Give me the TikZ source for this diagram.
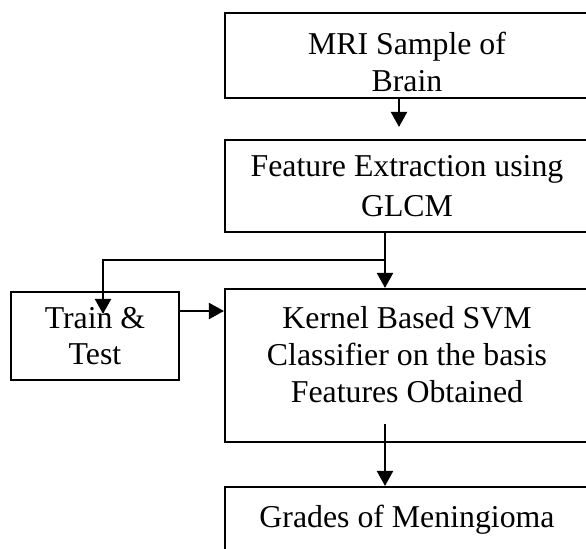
\documentclass[tikz,border=0pt]{standalone}
\usepackage{fontspec}
\setmainfont{Liberation Serif}
\usetikzlibrary{arrows.meta}
\tikzset{
    stage/.style={draw, line width=0.6pt, minimum width=3.64cm, align=center, inner sep=0pt},
    flow/.style={-{Triangle[length=0.15cm,width=0.16cm]}, line width=0.6pt}
}
\begin{document}
\begin{tikzpicture}[font=\fontsize{9.05pt}{10.4pt}\selectfont]
            \useasboundingbox (0, 0) rectangle (5.86, -5.48);
            \clip (0, 0) rectangle (5.86, -5.48);
            \node[stage, minimum height=0.85cm] (mri) at (4.07, -0.555) {\rule{0pt}{10pt}MRI Sample of\\ Brain};
            \node[stage, minimum height=0.92cm] (glcm) at (4.07, -1.86) {Feature Extraction using\\[1pt] GLCM};
            \node[stage, minimum height=1.53cm] (svm) at (4.07, -3.655) {Kernel Based SVM\\ Classifier on the basis\\ Features Obtained\\[-4.1pt]};
            \node[stage, minimum width=1.68cm, minimum height=0.88cm] (train) at (0.95, -3.36) {Train \&\\ Test};
            \node[stage, minimum height=0.66cm] (grades) at (4.07, -5.20) {Grades of Meningioma};
            \coordinate (fork) at ([xshift=-0.22cm, yshift=-0.27cm] glcm.south);

            \draw[flow] ([xshift=-0.08cm] mri.south) -- ([xshift=-0.08cm, yshift=0.12cm] glcm.north);
            \draw[flow] ([xshift=-0.22cm] glcm.south) -- ([xshift=-0.22cm] svm.north);
            \draw[flow] (fork) -| ([xshift=0.08cm, yshift=-0.23cm] train.north);
            \draw[flow] ([yshift=0.25cm] train.east) -- ([yshift=0.25cm] train.east -| svm.west);
            \draw[flow] ([xshift=-0.22cm, yshift=0.19cm] svm.south) -- ([xshift=-0.22cm] grades.north);
\end{tikzpicture}
\end{document}
